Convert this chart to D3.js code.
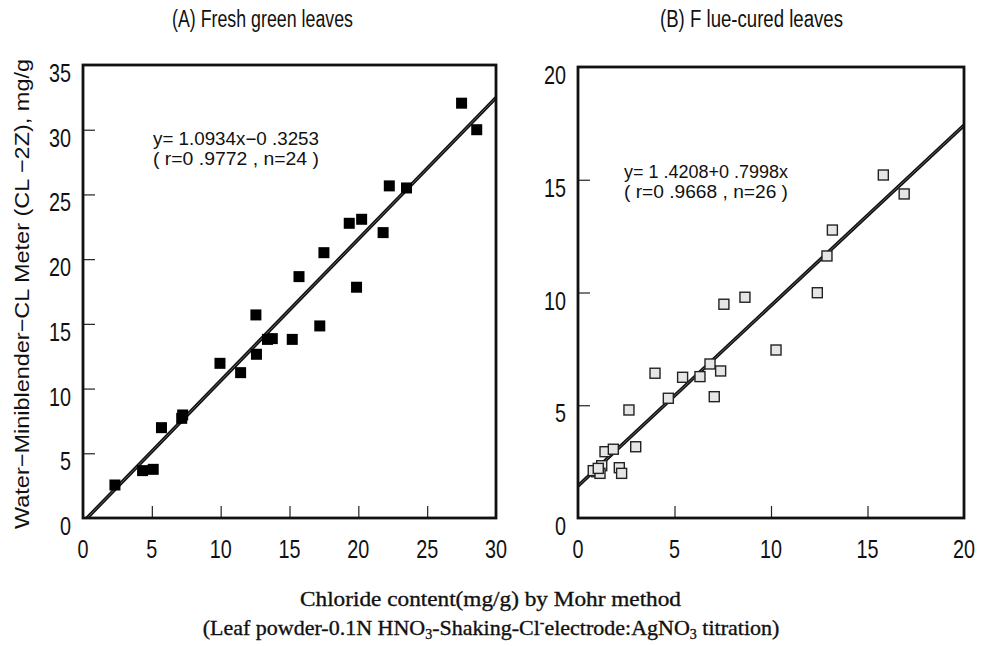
<!DOCTYPE html>
<html>
<head>
<meta charset="utf-8">
<script src="https://cdn.jsdelivr.net/npm/d3@7"></script>
<style>
  body { margin: 0; background: #fff; }
  svg { display: block; }
  text { fill: #111; }
  .sans { font-family: "Liberation Sans", Arial, sans-serif; }
  .xlab { font-family: "Liberation Serif", "DejaVu Serif", serif; font-size: 22px; stroke: #111; stroke-width: 0.35; }
</style>
</head>
<body>
<div id="chart"></div>
<script>
// (A) fresh green leaves: Mohr (x) vs CL meter (y)
const freshX = [27.5, 28.6, 22.25, 23.5, 19.34, 20.24, 21.8, 17.5, 15.69, 19.87, 12.56, 17.2,
  13.4, 13.75, 15.2, 12.6, 9.95, 11.45, 7.24, 7.17, 5.7, 4.33, 5.1, 2.32];
const freshY = [32.05, 30.0, 25.66, 25.5, 22.77, 23.08, 22.05, 20.5, 18.65, 17.83, 15.69, 14.84,
  13.8, 13.86, 13.8, 12.65, 11.95, 11.23, 7.96, 7.7, 6.98, 3.66, 3.76, 2.55];

// (B) flue-cured leaves
const curedX = [15.82, 16.9, 13.18, 12.9, 12.4, 8.65, 7.56, 10.26, 3.99, 5.42, 6.32, 6.84, 7.39,
  7.06, 4.68, 2.64, 2.99, 1.4, 1.83, 1.23, 0.97, 0.79, 1.14, 2.14, 2.26, 1.05];
const curedY = [15.21, 14.37, 12.77, 11.62, 9.99, 9.79, 9.48, 7.45, 6.42, 6.24, 6.27, 6.83, 6.52,
  5.38, 5.31, 4.79, 3.16, 2.94, 3.05, 2.32, 2.05, 2.1, 1.98, 2.23, 1.98, 2.2];

// regression lines (intercept, slope)
const freshFit = [-0.3253, 1.0934];
const curedFit = [1.4208, 0.7998];

const freshTicksX = [0, 5, 10, 15, 20, 25, 30];
const freshTicksY = [0, 5, 10, 15, 20, 25, 30, 35];
const curedTicksX = [0, 5, 10, 15, 20];
const curedTicksY = [0, 5, 10, 15, 20];

const width = 981, height = 646;
const svg = d3.select("#chart").append("svg").attr("width", width).attr("height", height);

// condensed-looking text: fixed width, squeezed glyphs
function label(sel, txt, size, len) {
  return sel.append("text").attr("class", "sans").attr("font-size", size)
    .attr("textLength", len).attr("lengthAdjust", "spacingAndGlyphs").text(txt);
}

function panel({ left, right, top, bottom, xMax, yMax, xs, ys, fit, ticksX, ticksY, filled, title, titleX, titleLen, eq, eqX, eqY, eqLen }) {
  const x = d3.scaleLinear().domain([0, xMax]).range([left, right]);
  const y = d3.scaleLinear().domain([0, yMax]).range([bottom, top]);
  const g = svg.append("g");

  // ticks pointing inward
  g.append("g").attr("transform", `translate(0,${bottom})`)
    .call(d3.axisTop(x).tickValues(ticksX.slice(1, -1)).tickSize(12).tickFormat(""))
    .call((a) => a.select(".domain").remove())
    .call((a) => a.selectAll("line").attr("stroke", "#222").attr("stroke-width", 1.2));
  g.append("g").attr("transform", `translate(${left},0)`)
    .call(d3.axisRight(y).tickValues(ticksY.slice(1, -1)).tickSize(12).tickFormat(""))
    .call((a) => a.select(".domain").remove())
    .call((a) => a.selectAll("line").attr("stroke", "#222").attr("stroke-width", 1.2));

  // tick labels
  ticksX.forEach((d) => {
    const s = String(d);
    label(g, s, 26, s.length * 11).attr("x", x(d) - s.length * 5.5).attr("y", bottom + 40);
  });
  ticksY.forEach((d) => {
    const s = String(d);
    label(g, s, 26, s.length * 11).attr("x", left - 12 - s.length * 11).attr("y", y(d) + 17);
  });

  // regression line, clipped to the frame
  const clipId = "clip" + left;
  svg.append("clipPath").attr("id", clipId).append("rect")
    .attr("x", left).attr("y", top).attr("width", right - left).attr("height", bottom - top);
  const line = d3.line().x((d) => x(d)).y((d) => y(fit[0] + fit[1] * d));
  const lg = g.append("g").attr("clip-path", `url(#${clipId})`);
  lg.append("path").datum([0, xMax]).attr("d", line)
    .attr("stroke", "#111").attr("stroke-width", 3.6).attr("fill", "none");
  lg.append("path").datum([0, xMax]).attr("d", line)
    .attr("stroke", "#999").attr("stroke-width", 0.6).attr("fill", "none");

  // points
  const pts = xs.map((v, i) => [v, ys[i]]);
  const s = filled ? 11 : 10;
  g.selectAll(".pt").data(pts).join("rect")
    .attr("x", (d) => x(d[0]) - s / 2).attr("y", (d) => y(d[1]) - s / 2)
    .attr("width", s).attr("height", s)
    .attr("fill", filled ? "#000" : "#e6e6e6")
    .attr("stroke", filled ? "none" : "#222")
    .attr("stroke-width", 1.4);

  // frame
  g.append("rect").attr("x", left).attr("y", top)
    .attr("width", right - left).attr("height", bottom - top)
    .attr("fill", "none").attr("stroke", "#111").attr("stroke-width", 2.8);

  label(svg, title, 23, titleLen).attr("x", titleX).attr("y", 27);
  label(svg, eq[0], 18, eqLen).attr("x", eqX).attr("y", eqY);
  label(svg, eq[1], 18, eqLen).attr("x", eqX).attr("y", eqY + 20);
}

panel({
  left: 83, right: 496, top: 65, bottom: 518, xMax: 30, yMax: 35,
  xs: freshX, ys: freshY, fit: freshFit, ticksX: freshTicksX, ticksY: freshTicksY,
  filled: true, title: "(A) Fresh green  leaves", titleX: 172, titleLen: 181,
  eq: ["y= 1.0934x\u22120 .3253", "( r=0 .9772 ,  n=24 )"], eqX: 153, eqY: 145, eqLen: 166
});

panel({
  left: 578, right: 964, top: 67, bottom: 518, xMax: 20, yMax: 20,
  xs: curedX, ys: curedY, fit: curedFit, ticksX: curedTicksX, ticksY: curedTicksY,
  filled: false, title: "(B) F lue-cured  leaves", titleX: 660, titleLen: 183,
  eq: ["y= 1 .4208+0 .7998x", "( r=0 .9668 ,  n=26 )"], eqX: 624, eqY: 178, eqLen: 164
});

// y-axis title
label(svg, "Water\u2212Miniblender\u2212CL Meter (CL \u22122Z), mg/g", 21, 470)
  .attr("transform", "translate(29,294) rotate(-90)")
  .attr("x", -235).attr("y", 0);

// x-axis title (two lines)
svg.append("text").attr("class", "xlab").attr("x", 300).attr("y", 606)
  .attr("textLength", 381).attr("lengthAdjust", "spacingAndGlyphs")
  .text("Chloride content(mg/g) by Mohr method");
const l2 = svg.append("text").attr("class", "xlab").attr("x", 491).attr("y", 635)
  .attr("font-size", 20).attr("text-anchor", "middle");
l2.append("tspan").text("(Leaf powder-0.1N HNO");
l2.append("tspan").attr("font-size", 14).attr("dy", 4).text("3");
l2.append("tspan").attr("dy", -4).text("-Shaking-Cl");
l2.append("tspan").attr("font-size", 14).attr("dy", -8).text("-");
l2.append("tspan").attr("dy", 8).text("electrode:AgNO");
l2.append("tspan").attr("font-size", 14).attr("dy", 4).text("3");
l2.append("tspan").attr("dy", -4).text(" titration)");
</script>
</body>
</html>
